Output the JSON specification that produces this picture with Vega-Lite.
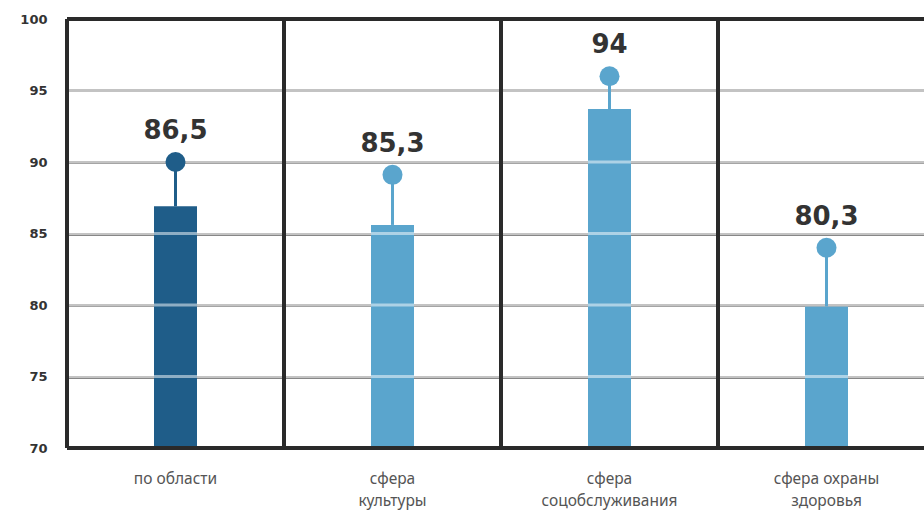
{
  "$schema": "https://vega.github.io/schema/vega-lite/v6.json",
  "width": 857,
  "height": 429,
  "autosize": {"type": "none"},
  "padding": {"left": 67, "top": 19, "right": 0, "bottom": 64},
  "background": "white",
  "config": {
    "view": {"stroke": null},
    "axisX": {
      "domain": false, "ticks": false, "grid": false,
      "labelFont": "Noto Sans", "labelFontSize": 15.5, "labelColor": "#555555",
      "labelPadding": 23, "labelLineHeight": 22, "labelBaseline": "top", "labelAngle": 0,
      "labelExpr": "datum.label == 'по области' ? datum.label : datum.label == 'сфера охраны здоровья' ? ['сфера охраны', 'здоровья'] : split(datum.label, ' ')"
    },
    "axisY": {
      "domain": false, "ticks": false, "grid": true,
      "gridColor": "#878787", "gridWidth": 3, "gridOpacity": 1,
      "labelFont": "DejaVu Sans", "labelFontWeight": "bold", "labelFontSize": 13,
      "labelColor": "#333333", "labelPadding": 20
    }
  },
  "datasets": {
    "main": [
      {"category": "по области", "label": "86,5", "bar": 86.9, "dot": 90.0},
      {"category": "сфера культуры", "label": "85,3", "bar": 85.6, "dot": 89.1},
      {"category": "сфера соцобслуживания", "label": "94", "bar": 93.7, "dot": 96.0},
      {"category": "сфера охраны здоровья", "label": "80,3", "bar": 79.9, "dot": 84.0}
    ],
    "grid": [{"v": 75}, {"v": 80}, {"v": 85}, {"v": 90}, {"v": 95}],
    "frame": [{"v": 70}, {"v": 100}]
  },
  "layer": [
    {
      "data": {"name": "main"},
      "mark": {"type": "bar", "width": 43},
      "encoding": {
        "x": {"field": "category", "type": "nominal", "sort": null, "title": null,
          "scale": {"type": "band", "domain": ["по области", "сфера культуры", "сфера соцобслуживания", "сфера охраны здоровья"], "range": [0, 868], "paddingInner": 0, "paddingOuter": 0}},
        "y": {"field": "bar", "type": "quantitative", "title": null,
          "scale": {"domain": [70, 100], "zero": false, "nice": false},
          "axis": {"values": [70, 75, 80, 85, 90, 95, 100]}},
        "y2": {"datum": 70},
        "color": {"field": "category", "type": "nominal", "legend": null,
          "scale": {"domain": ["по области", "сфера культуры", "сфера соцобслуживания", "сфера охраны здоровья"], "range": ["#1f5d89", "#5aa5cd", "#5aa5cd", "#5aa5cd"]}}
      }
    },
    {
      "data": {"name": "grid"},
      "mark": {"type": "rule", "color": "white", "opacity": 0.5, "strokeWidth": 3},
      "encoding": {
        "y": {"field": "v", "type": "quantitative", "title": null}
      }
    },
    {
      "data": {"name": "main"},
      "mark": {"type": "rule", "strokeWidth": 3},
      "encoding": {
        "x": {"field": "category", "type": "nominal", "sort": null, "title": null},
        "y": {"field": "bar", "type": "quantitative", "title": null},
        "y2": {"field": "dot"},
        "color": {"field": "category", "type": "nominal", "legend": null}
      }
    },
    {
      "data": {"name": "main"},
      "mark": {"type": "point", "filled": true, "opacity": 1, "size": 400},
      "encoding": {
        "x": {"field": "category", "type": "nominal", "sort": null, "title": null},
        "y": {"field": "dot", "type": "quantitative", "title": null},
        "color": {"field": "category", "type": "nominal", "legend": null}
      }
    },
    {
      "data": {"name": "main"},
      "mark": {"type": "rule", "color": "#2a2a2a", "strokeWidth": 4},
      "encoding": {
        "x": {"field": "category", "type": "nominal", "sort": null, "title": null, "bandPosition": 0}
      }
    },
    {
      "data": {"name": "frame"},
      "mark": {"type": "rule", "color": "#2a2a2a", "strokeWidth": 4},
      "encoding": {
        "y": {"field": "v", "type": "quantitative", "title": null}
      }
    },
    {
      "data": {"name": "main"},
      "mark": {"type": "text", "dy": -31, "font": "DejaVu Sans", "fontWeight": "bold", "fontSize": 26, "color": "#333333", "baseline": "middle", "align": "center"},
      "encoding": {
        "x": {"field": "category", "type": "nominal", "sort": null, "title": null},
        "y": {"field": "dot", "type": "quantitative", "title": null},
        "text": {"field": "label"}
      }
    }
  ]
}
